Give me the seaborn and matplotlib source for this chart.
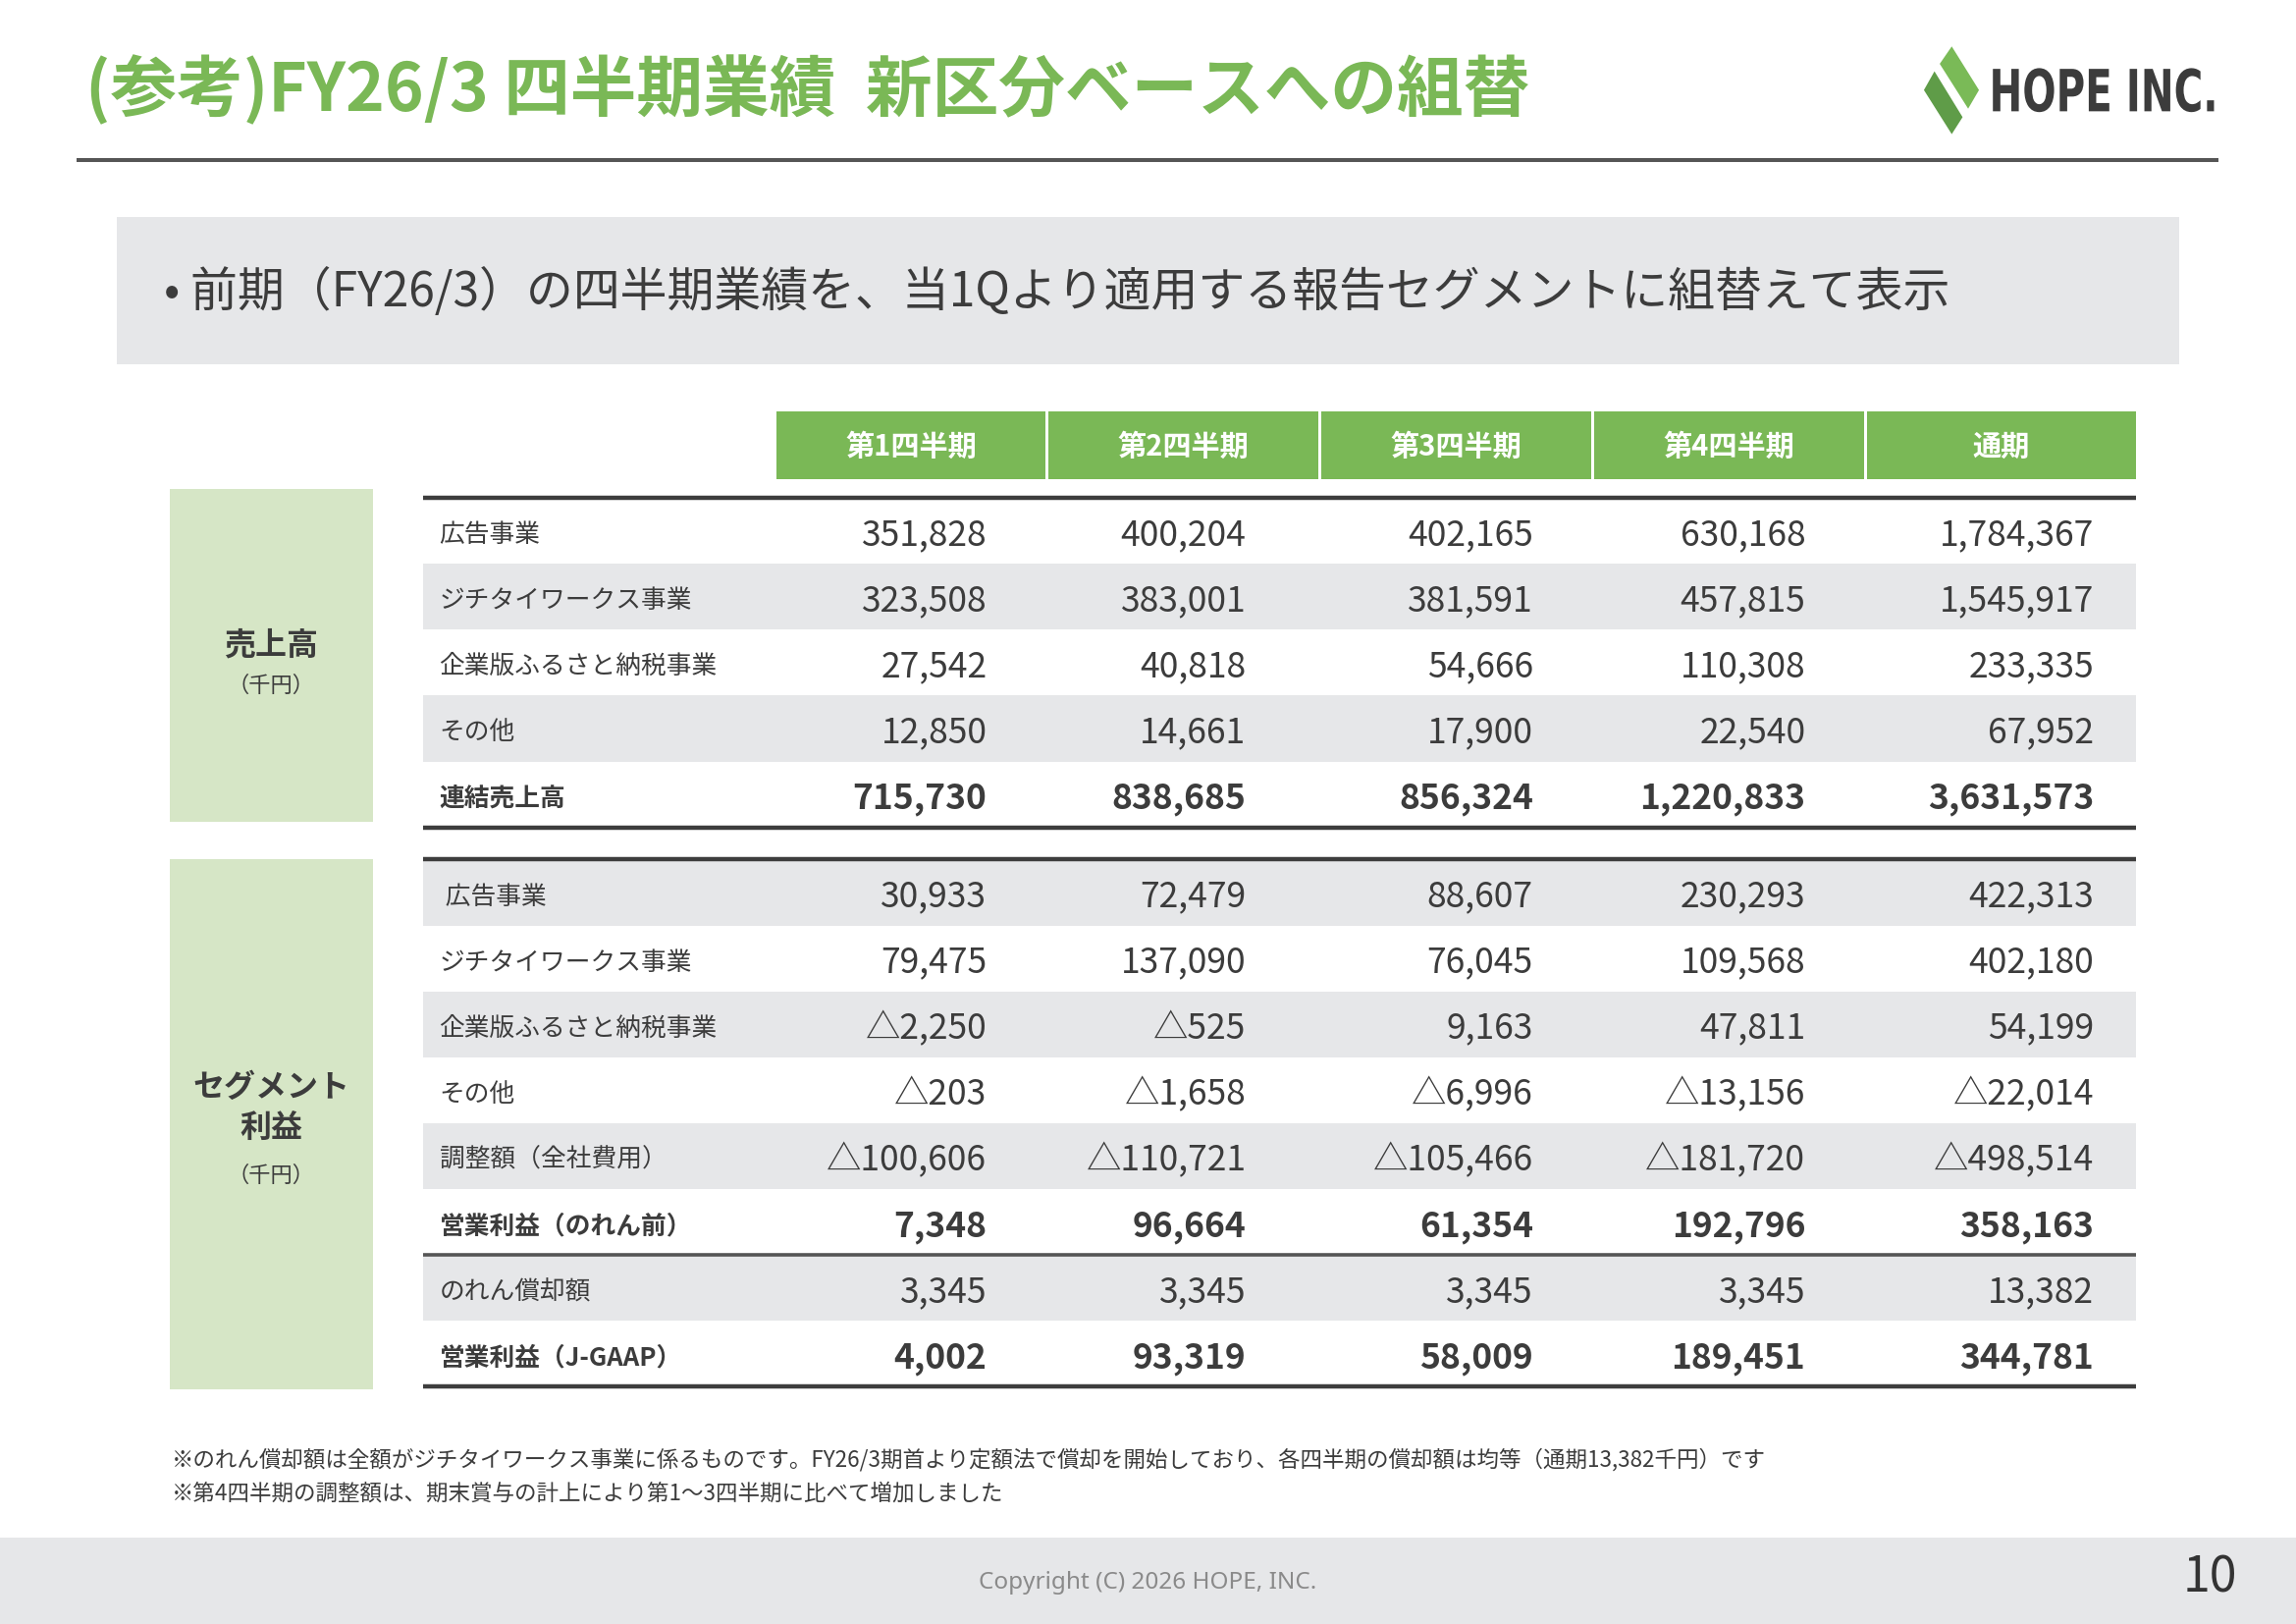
import matplotlib
matplotlib.use("Agg")
import matplotlib.pyplot as plt
import seaborn as sns
from matplotlib.patches import Rectangle, Polygon, PathPatch
from matplotlib.textpath import TextPath
from matplotlib.font_manager import FontProperties
from matplotlib.transforms import Affine2D

# --- data ---
quarters = ["第1四半期", "第2四半期", "第3四半期", "第4四半期", "通期"]

sales_labels = ["広告事業", "ジチタイワークス事業", "企業版ふるさと納税事業", "その他", "連結売上高"]
sales_ad = [351828, 400204, 402165, 630168, 1784367]
sales_jichitai = [323508, 383001, 381591, 457815, 1545917]
sales_furusato = [27542, 40818, 54666, 110308, 233335]
sales_other = [12850, 14661, 17900, 22540, 67952]
sales_total = [715730, 838685, 856324, 1220833, 3631573]
sales_values = [sales_ad, sales_jichitai, sales_furusato, sales_other, sales_total]
sales_bold = [False, False, False, False, True]

profit_labels = [" 広告事業", "ジチタイワークス事業", "企業版ふるさと納税事業", "その他",
                 "調整額（全社費用）", "営業利益（のれん前）", "のれん償却額", "営業利益（J-GAAP）"]
profit_ad = [30933, 72479, 88607, 230293, 422313]
profit_jichitai = [79475, 137090, 76045, 109568, 402180]
profit_furusato = [-2250, -525, 9163, 47811, 54199]
profit_other = [-203, -1658, -6996, -13156, -22014]
profit_adjust = [-100606, -110721, -105466, -181720, -498514]
profit_pre_goodwill = [7348, 96664, 61354, 192796, 358163]
goodwill = [3345, 3345, 3345, 3345, 13382]
profit_jgaap = [4002, 93319, 58009, 189451, 344781]
profit_values = [profit_ad, profit_jichitai, profit_furusato, profit_other,
                 profit_adjust, profit_pre_goodwill, goodwill, profit_jgaap]
profit_bold = [False, False, False, False, False, True, False, True]

title = "(参考)FY26/3 四半期業績  新区分ベースへの組替"
subtitle = "• 前期（FY26/3）の四半期業績を、当1Qより適用する報告セグメントに組替えて表示"
notes = ["※のれん償却額は全額がジチタイワークス事業に係るものです。FY26/3期首より定額法で償却を開始しており、各四半期の償却額は均等（通期13,382千円）です",
         "※第4四半期の調整額は、期末賞与の計上により第1～3四半期に比べて増加しました"]

sns.set_theme(style="white")
plt.rcParams["font.family"] = ["Noto Sans CJK JP", "DejaVu Sans"]

GREEN = "#7ab856"
LIGHT_GREEN = "#d6e6c6"
SHADE = "#e6e7e9"
TEXT = "#3c3c3c"
LINE = "#3d3d3d"


def fmt(v):
    return "△{:,}".format(-v) if v < 0 else "{:,}".format(v)


fig = plt.figure(figsize=(23.39, 16.54), dpi=100)
ax = fig.add_axes([0, 0, 1, 1])
ax.set_xlim(0, 1568)
ax.set_ylim(1109, 0)
ax.axis("off")

# header
ax.text(58, 62, title, color=GREEN, fontsize=48.7, fontweight="bold", va="center")
ax.plot([52, 1515], [109, 109], color="#555555", lw=2.9, solid_capstyle="butt")

# logo
ax.add_patch(Polygon([(1321.1, 48.7), (1340.3, 80.0), (1332.9, 91.6), (1313.9, 61.5)],
                     closed=True, color="#5f9c48", lw=0))
ax.add_patch(Polygon([(1332.9, 31.7), (1351.5, 61.5), (1344.1, 74.2), (1324.7, 43.6)],
                     closed=True, color="#7aba57", lw=0))
tp = TextPath((0, 0), "HOPE INC.", size=1, prop=FontProperties(family="DejaVu Sans", weight="bold"))
ext = tp.get_extents()
tr = Affine2D().translate(-ext.x0, 0).scale(151 / ext.width, -29 / 0.73).translate(1361, 76)
ax.add_patch(PathPatch(tr.transform_path(tp), color=TEXT, lw=0))

# subtitle box
ax.add_patch(Rectangle((80, 148), 1408, 101, color=SHADE, lw=0))
ax.text(112, 200, subtitle, color=TEXT, fontsize=34.5, va="center")

# column header cells
col_left = 530
col_w = 186.2
value_right = [674, 851, 1047, 1233, 1430]
for i, q in enumerate(quarters):
    ax.add_patch(Rectangle((col_left + i * col_w, 281), col_w - 2, 46, color=GREEN, lw=0))
    ax.text(col_left + i * col_w + (col_w - 2) / 2, 305, q, color="white", fontsize=21,
            fontweight="bold", ha="center", va="center")

row_h = 45
table_x0, table_x1 = 289, 1459
dy = 3  # text sits slightly below the row centre


def draw_section(top, labels, values, bold, shaded):
    for r, (lab, vals) in enumerate(zip(labels, values)):
        y0 = top + r * row_h
        if shaded[r]:
            ax.add_patch(Rectangle((table_x0, y0), table_x1 - table_x0, row_h, color=SHADE, lw=0))
        w = "bold" if bold[r] else "normal"
        ax.text(300, y0 + row_h / 2 + dy, lab, color=TEXT, fontsize=18.5, fontweight=w, va="center")
        for c, v in enumerate(vals):
            ax.text(value_right[c], y0 + row_h / 2 + dy, fmt(v), color=TEXT, fontsize=25.5,
                    fontweight=w, ha="right", va="center")
    bottom = top + len(labels) * row_h
    ax.plot([table_x0, table_x1], [top, top], color=LINE, lw=3.2, solid_capstyle="butt")
    ax.plot([table_x0, table_x1], [bottom, bottom], color=LINE, lw=3.2, solid_capstyle="butt")
    return bottom


sales_top = 340
draw_section(sales_top, sales_labels, sales_values, sales_bold, [r % 2 == 1 for r in range(len(sales_labels))])
profit_top = 587
draw_section(profit_top, profit_labels, profit_values, profit_bold, [r % 2 == 0 for r in range(len(profit_labels))])
sep = profit_top + 6 * row_h
ax.plot([table_x0, table_x1], [sep, sep], color="#555555", lw=2.6, solid_capstyle="butt")

# left category boxes
ax.add_patch(Rectangle((116, 334), 139, 227, color=LIGHT_GREEN, lw=0))
ax.text(185, 441, "売上高", color=TEXT, fontsize=23, fontweight="bold", ha="center", va="center")
ax.text(185, 468, "（千円）", color=TEXT, fontsize=16, ha="center", va="center")
ax.add_patch(Rectangle((116, 587), 139, 362, color=LIGHT_GREEN, lw=0))
ax.text(185, 743, "セグメント", color=TEXT, fontsize=23, fontweight="bold", ha="center", va="center")
ax.text(185, 771, "利益", color=TEXT, fontsize=23, fontweight="bold", ha="center", va="center")
ax.text(185, 803, "（千円）", color=TEXT, fontsize=16, ha="center", va="center")

# notes
ax.text(117, 997, notes[0], color=TEXT, fontsize=16.2, va="center")
ax.text(117, 1020, notes[1], color=TEXT, fontsize=16.2, va="center")

# footer
ax.add_patch(Rectangle((0, 1050), 1568, 59, color=SHADE, lw=0))
ax.text(784, 1081, "Copyright (C) 2026 HOPE, INC.", color="#8a8a8a", fontsize=17.5,
        family=["Noto Sans", "DejaVu Sans"], ha="center", va="center")
ax.text(1528, 1078, "10", color="#333333", fontsize=36, ha="right", va="center")

fig.savefig("out.png", dpi=100)
